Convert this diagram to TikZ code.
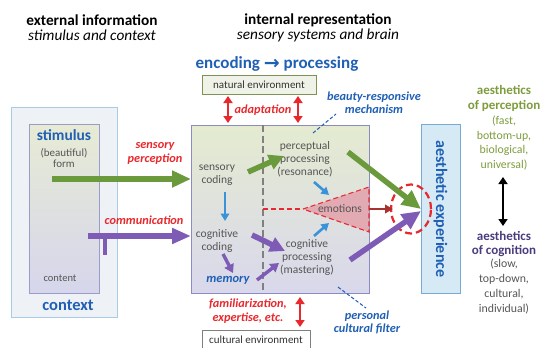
\documentclass[tikz,border=0pt]{standalone}
\usepackage{fontspec}
\setmainfont{Carlito}
\newfontfamily\djv{DejaVu Sans}
\usetikzlibrary{arrows.meta,shapes.geometric}
\definecolor{tblue}{HTML}{1F5FB4}
\definecolor{tred}{HTML}{E8282C}
\definecolor{agreen}{HTML}{6B9A3C}
\definecolor{apurple}{HTML}{7E5CB6}
\definecolor{sblue}{HTML}{3A92D8}
\definecolor{olivetxt}{HTML}{7D9C3C}
\definecolor{dpurple}{HTML}{4B3C7E}
\definecolor{gtext}{HTML}{555555}
\definecolor{brownred}{HTML}{A8322E}
\begin{document}
\begin{tikzpicture}[x=1pt,y=-1pt,
  hdr/.style={font=\fontsize{15.3}{17}\selectfont\bfseries},
  sub/.style={font=\fontsize{15.3}{17}\selectfont\itshape},
  redlab/.style={text=tred, font=\fontsize{12.3}{14}\selectfont\bfseries\itshape, align=center},
  bluelab/.style={text=tblue, font=\fontsize{12.3}{12.5}\selectfont\bfseries\itshape, align=center},
  intext/.style={text=gtext, font=\fontsize{11.5}{13}\selectfont, align=center},
  rtext/.style={font=\fontsize{11.8}{14.7}\selectfont, align=center},
  bigarrow/.style={line width=6pt, -{Triangle[length=19pt,width=16pt]}},
  redarr/.style={tred, line width=2.4pt, {Triangle[length=7pt,width=9pt]}-{Triangle[length=7pt,width=9pt]}},
  smallblue/.style={sblue, line width=2.6pt, -{Triangle[length=7.5pt,width=8.5pt]}},
  midpurple/.style={apurple, line width=3.4pt, -{Triangle[length=8.5pt,width=10pt]}},
  envbox/.style={draw=#1!60!gray, line width=0.8pt, inner sep=0pt, font=\fontsize{11}{12}\selectfont, text=black!80},
  dashblue/.style={tblue, line width=1pt, dash pattern=on 3.5pt off 2pt}
]
\useasboundingbox (0,0) rectangle (541,348);

% headers
\node[hdr] (exth) at (92,20) {external information};
\node[sub] (exts) at (92,35.5) {stimulus and context};
\node[hdr] (inth) at (318,20) {internal representation};
\node[sub] (ints) at (318,35.5) {sensory systems and brain};
\node[text=tblue, font=\fontsize{17}{18}\selectfont\bfseries] (enc) at (277,64) {encoding {\djv\bfseries\fontsize{19}{18}\selectfont\raisebox{-0.5pt}{→}} processing};

% environment boxes
\node[envbox=olivetxt, fill=black!3!olivetxt!12, minimum width=114pt, minimum height=19pt] (nat) at (259,84.5) {natural environment};
\node[envbox=gray, fill=white, minimum width=108pt, minimum height=20pt] (cult) at (256,340) {cultural environment};

% context / stimulus
\node[draw={rgb,255:red,168;green,204;blue,232}, fill={rgb,255:red,238;green,242;blue,247}, line width=0.8pt, minimum width=106pt, minimum height=210pt] (ctx) at (64,212) {};
\node[draw=blue!30!gray!60, line width=0.6pt, top color={rgb,255:red,231;green,235;blue,212}, middle color={rgb,255:red,228;green,230;blue,222}, bottom color={rgb,255:red,214;green,214;blue,236}, minimum width=70pt, minimum height=169pt] (stim) at (64,208.5) {};
\node[text=tblue, font=\fontsize{15.5}{17}\selectfont\bfseries] (stimt) at (64,135) {stimulus};
\node[intext, font=\fontsize{11}{11}\selectfont] (form) at (64,158) {(beautiful)\\form};
\node[intext, font=\fontsize{10.5}{12}\selectfont] (cont) at (60,278) {content};
\node[text=tblue, font=\fontsize{16.5}{18}\selectfont\bfseries] (ctxt) at (68,305) {context};

% main processing box
\node[draw=blue!30!gray!70, line width=0.8pt, top color={rgb,255:red,228;green,235;blue,208}, middle color={rgb,255:red,222;green,228;blue,218}, bottom color={rgb,255:red,217;green,216;blue,236}, minimum width=178pt, minimum height=168pt] (main) at (280,209) {};
\coordinate (dtop) at (263,125);
\coordinate (dbot) at (263,293);
\draw[gray, line width=1.8pt, dash pattern=on 7pt off 3.5pt] (dtop) -- (dbot);

% emotions triangle
\coordinate (tA) at (303,209);
\coordinate (tB) at (369,187);
\coordinate (tC) at (369,232);
\coordinate (dl) at (263,209);
\draw[tred, line width=1.1pt, dash pattern=on 5pt off 3pt] (dl) -- (tA);
\draw[tred, line width=1.1pt, dash pattern=on 5pt off 3pt, fill={rgb,255:red,226;green,170;blue,178}] (tA) -- (tB) -- (tC) -- cycle;
\node[intext] (emo) at (340,209) {emotions};

% inner texts
\node[intext] (sc) at (217,175.5) {sensory\\coding};
\node[intext] (pp) at (305,159) {perceptual\\processing\\(resonance)};
\node[intext] (cc) at (217,241) {cognitive\\coding};
\node[intext] (cp) at (307,258) {cognitive\\processing\\(mastering)};
\node[bluelab, font=\fontsize{12.5}{14}\selectfont\bfseries\itshape] (mem) at (228,280) {memory};

% aesthetic experience
\node[draw={rgb,255:red,120;green,170;blue,212}, fill={rgb,255:red,214;green,234;blue,246}, line width=0.8pt, minimum width=39pt, minimum height=169pt] (aes) at (440.5,208.5) {};
\node[text=tblue, font=\fontsize{16}{18}\selectfont\bfseries, rotate=-90] (aest) at (440.5,209) {aesthetic experience};

% focus circle
\node[draw=tred, line width=2.2pt, dash pattern=on 7pt off 4pt, ellipse, minimum width=40pt, minimum height=49pt] (focus) at (411,209) {};

% labels
\node[redlab] (sp) at (155,153) {sensory\\perception};
\node[redlab] (comm) at (144,220) {communication};
\node[redlab] (adapt) at (263,110) {adaptation};
\node[redlab] (fam) at (248,311.5) {familiarization,\\expertise, etc.};
\node[bluelab] (mech) at (374,102.5) {beauty-responsive\\mechanism};
\node[bluelab] (pcf) at (367,322.5) {personal\\cultural filter};

% right column
\node[rtext, text=olivetxt, font=\fontsize{13}{15}\selectfont\bfseries] (ap) at (504,98.5) {aesthetics\\of perception};
\node[rtext, text=olivetxt] (apd) at (504,143) {(fast,\\bottom-up,\\biological,\\universal)};
\node[rtext, text=dpurple, font=\fontsize{13}{14.5}\selectfont\bfseries] (ac) at (504,244) {aesthetics\\of cognition};
\node[rtext, text=gtext] (acd) at (504,286.5) {(slow,\\top-down,\\cultural,\\individual)};
\coordinate (bkT) at (503,177);
\coordinate (bkB) at (503,226);
\draw[black, line width=1.8pt, {Triangle[length=7pt,width=9pt]}-{Triangle[length=7pt,width=9pt]}] (bkT) -- (bkB);

% big arrows
\coordinate (gS) at (52,179);
\coordinate (gE) at (191,179);
\draw[agreen, bigarrow] (gS) -- (gE);
\coordinate (pS) at (88,236);
\coordinate (pE) at (191,236);
\coordinate (pV) at (105,234);
\coordinate (pV2) at (105,255);
\draw[apurple, line width=4.5pt] (pV) -- (pV2);
\draw[apurple, line width=5.5pt, -{Triangle[length=19pt,width=15pt]}] (pS) -- (pE);

\coordinate (g2S) at (248,172);
\coordinate (g2E) at (284,156);
\draw[agreen, line width=5.5pt, -{Triangle[length=15pt,width=15pt]}] (g2S) -- (g2E);
\coordinate (p2S) at (252,235);
\coordinate (p2E) at (285,251);
\draw[apurple, line width=5.5pt, -{Triangle[length=15pt,width=15pt]}] (p2S) -- (p2E);

\coordinate (g3S) at (348,152);
\coordinate (g3E) at (421,209);
\draw[agreen, line width=5.5pt, -{Triangle[length=19pt,width=17pt]}] (g3S) -- (g3E);
\coordinate (p3S) at (350,260);
\coordinate (p3E) at (421,211);
\draw[apurple, line width=5.5pt, -{Triangle[length=19pt,width=17pt]}] (p3S) -- (p3E);

% small blue arrows
\coordinate (b1S) at (225,192);
\coordinate (b1E) at (225,221);
\draw[smallblue] (b1S) -- (b1E);
\coordinate (b2S) at (314,182);
\coordinate (b2E) at (329,195);
\draw[smallblue] (b2S) -- (b2E);
\coordinate (b3S) at (314,236);
\coordinate (b3E) at (329,223);
\draw[smallblue] (b3S) -- (b3E);

% purple small arrows
\coordinate (m1S) at (223,254);
\coordinate (m1E) at (233,273);
\draw[midpurple] (m1S) -- (m1E);
\coordinate (m2S) at (257,280);
\coordinate (m2E) at (279,263);
\draw[midpurple] (m2S) -- (m2E);

% emotions to focus
\coordinate (eS) at (369,209);
\coordinate (eE) at (393,209);
\draw[brownred, line width=2.5pt, -{Triangle[length=8pt,width=8.5pt]}] (eS) -- (eE);

% red double arrows
\coordinate (r1T) at (228,96);
\coordinate (r1B) at (228,123);
\draw[redarr] (r1T) -- (r1B);
\coordinate (r2T) at (298,96);
\coordinate (r2B) at (298,123);
\draw[redarr] (r2T) -- (r2B);
\coordinate (r3T) at (300,297);
\coordinate (r3B) at (300,327);
\draw[redarr] (r3T) -- (r3B);

% dashed pointers
\coordinate (d1S) at (313,133);
\coordinate (d1E) at (336,114);
\draw[dashblue] (d1S) -- (d1E);
\coordinate (d2S) at (338,287);
\coordinate (d2E) at (366,308);
\draw[dashblue] (d2S) -- (d2E);
\end{tikzpicture}
\end{document}
